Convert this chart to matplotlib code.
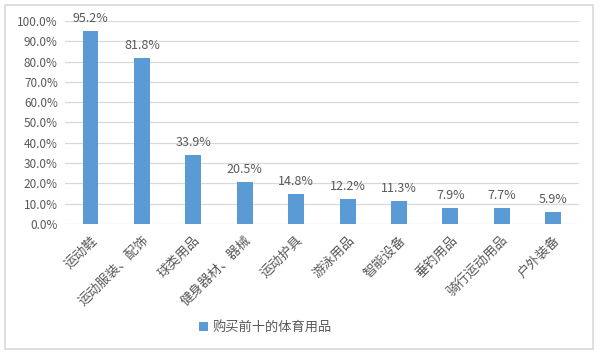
import matplotlib
matplotlib.use("Agg")
import matplotlib.pyplot as plt
from matplotlib.patches import Rectangle
from matplotlib.ticker import FuncFormatter, MultipleLocator

plt.rcParams['font.family'] = ['Noto Sans CJK SC', 'DejaVu Sans']

categories = ["运动鞋", "运动服装、配饰", "球类用品", "健身器材、器械", "运动护具",
              "游泳用品", "智能设备", "垂钓用品", "骑行运动用品", "户外装备"]
values = [95.2, 81.8, 33.9, 20.5, 14.8, 12.2, 11.3, 7.9, 7.7, 5.9]
series_name = "购买前十的体育用品"

fig = plt.figure(figsize=(6, 3.55), dpi=100)
fig.patches.append(Rectangle((0.009, 0.017), 0.98, 0.968, transform=fig.transFigure,
                             fill=False, edgecolor='#D9D9D9', linewidth=1.2))
ax = fig.add_axes([0.108, 0.369, 0.857, 0.572])

x = range(len(categories))
bars = ax.bar(x, values, width=0.31, color='#5B9BD5', label=series_name, zorder=3)
for xi, v in zip(x, values):
    ax.text(xi, v + 3, f"{v:.1f}%", ha='center', va='bottom', fontsize=9, color='#595959')

ax.set_ylim(0, 100)
ax.set_xlim(-0.5, len(categories) - 0.5)
ax.yaxis.set_major_locator(MultipleLocator(10))
ax.yaxis.set_major_formatter(FuncFormatter(lambda v, p: f"{v:.1f}%"))
ax.grid(axis='y', color='#D9D9D9', linewidth=0.9, zorder=0)
for s in ax.spines.values():
    s.set_visible(False)
ax.tick_params(axis='both', length=0, colors='#595959', labelsize=8.5)
ax.set_xticks(list(x))
ax.set_xticklabels(categories, rotation=45, ha='right', rotation_mode='anchor', fontsize=9.5)
ax.tick_params(axis='x', pad=7)
ax.tick_params(axis='y', pad=5)

fig.legend(handles=[bars], labels=[series_name], loc='center', bbox_to_anchor=(0.442, 0.077),
           frameon=False, fontsize=9.5, handlelength=0.7, handleheight=0.7, handletextpad=0.3,
           labelcolor='#595959')

fig.savefig("out.png", dpi=100)
